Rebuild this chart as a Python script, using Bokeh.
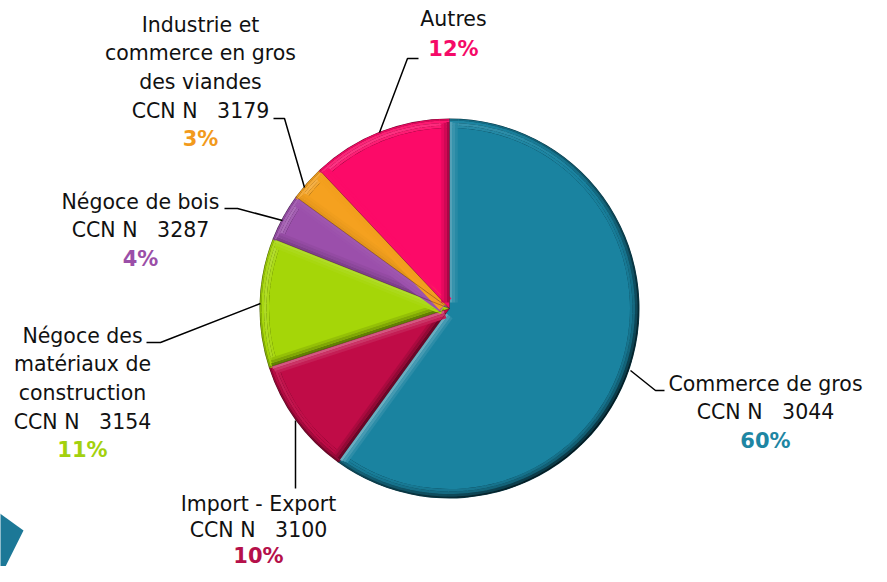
import numpy as np
from bokeh.plotting import figure
from bokeh.models import Range1d
from bokeh.embed import file_html
from bokeh.resources import INLINE
from bokeh.core.properties import value

# ---------------- data ----------------
categories = [
    "Commerce de gros\nCCN N\u00a0\u00a0 3044",
    "Import - Export\nCCN N\u00a0\u00a0 3100",
    "Négoce des\nmatériaux de\nconstruction\nCCN N\u00a0\u00a0 3154",
    "Négoce de bois\nCCN N\u00a0\u00a0 3287",
    "Industrie et\ncommerce en gros\ndes viandes\nCCN N\u00a0\u00a0 3179",
    "Autres",
]
shares = [60, 10, 11, 4, 3, 12]
pct_labels = ["60%", "10%", "11%", "4%", "3%", "12%"]

# ---------------- styles / layout ----------------
face = ["#1a83a0", "#c00c47", "#a5d608", "#9b4fab", "#f5a11f", "#fc0a68"]
pct_colors = ["#1e86a3", "#b5104a", "#a3d10e", "#9b4fa8", "#f29a1c", "#f50a68"]

W, H = 871, 566
def Y(y):
    return H - y

cx, cy, R = 449, Y(308), 190
label_x = [765, 258, 82, 140, 200, 453]
label_y0 = [383, 503, 335, 201, 24, 18]
label_lh = [28.7, 26.0, 28.7, 28.7, 28.7, 30]
leaders = [
    [(630, 370), (655, 390), (664, 390)],
    [(295, 420), (295, 488)],
    [(260, 303), (160, 342), (146, 342)],
    [(282, 220), (237, 208), (224, 208)],
    [(304, 187), (284, 118), (273, 118)],
    [(379, 132), (407, 58), (418, 58)],
]


def hex2rgb(h):
    h = h.lstrip("#")
    return np.array([int(h[k:k + 2], 16) for k in (0, 2, 4)], dtype=float)


def shade(h, t):
    """t>0 mixes toward white, t<0 toward black."""
    c = hex2rgb(h)
    if t >= 0:
        c = c + (255 - c) * t
    else:
        c = c * (1 + t)
    c = np.clip(c, 0, 255).astype(int)
    return "#%02x%02x%02x" % tuple(c)


LIGHT = 3 * np.pi / 4  # light coming from upper-left

p = figure(width=W, height=H, output_backend="svg", toolbar_location=None,
           x_range=Range1d(0, W), y_range=Range1d(0, H),
           min_border=0, outline_line_color=None, background_fill_color="white",
           border_fill_color="white")
p.axis.visible = False
p.grid.visible = False

# decorative shape bottom-left
p.patch([-2, 23, -2], [Y(512), Y(530), Y(580)], color="#1c7897", line_color=None)

total = float(sum(shares))
cum = np.cumsum([0] + shares) / total
start = np.pi / 2 - 2 * np.pi * cum[1:]
end = np.pi / 2 - 2 * np.pi * cum[:-1]

# base wedges (dark edge)
p.wedge(x=cx, y=cy, radius=R, start_angle=start, end_angle=end,
        color=[shade(c, -0.55) for c in face], line_color=None)

# beveled rim: rings x angular segments, shaded by light direction
rings = [(R - 2.0, R - 0.5, 1.0, -0.35), (R - 4.5, R - 2.0, 0.9, -0.15),
         (R - 7.0, R - 4.5, 0.6, 0.0), (R - 9.5, R - 7.0, 0.3, 0.0)]
ax0, ax1, ain, aout, acol = [], [], [], [], []
for i in range(len(shares)):
    a0, a1 = start[i], end[i]
    n = max(2, int(120 * (a1 - a0) / (2 * np.pi)) + 2)
    angs = np.linspace(a0, a1, n)
    for j in range(n - 1):
        mid = 0.5 * (angs[j] + angs[j + 1])
        lit = np.cos(mid - LIGHT)
        for rin, rout, k, base in rings:
            t = base + k * (0.30 * lit if lit > 0 else 0.45 * lit)
            ax0.append(angs[j])
            ax1.append(angs[j + 1] + 0.006)
            ain.append(rin)
            aout.append(rout)
            acol.append(shade(face[i], t))
p.annular_wedge(x=cx, y=cy, inner_radius=ain, outer_radius=aout,
                start_angle=ax0, end_angle=ax1, color=acol, line_color=None)

# flat faces
p.wedge(x=cx, y=cy, radius=R - 9.5, start_angle=start, end_angle=end,
        color=face, line_color=None)

# radial bevels along slice edges
bx, by, bcol, bw = [], [], [], []
for i in range(len(shares)):
    for a, inward in ((end[i], end[i] - np.pi / 2), (start[i], start[i] + np.pi / 2)):
        outward = inward + np.pi
        lit = np.cos(outward - LIGHT)
        t = 0.35 * lit if lit > 0 else 0.45 * lit
        for off, k, w in ((1.5, 1.0, 3), (4.5, 0.55, 3), (7.0, 0.25, 2.5)):
            ox, oy = off * np.cos(inward), off * np.sin(inward)
            bx.append([cx + ox + 6 * np.cos(a), cx + ox + (R - 3 - off * 0.3) * np.cos(a)])
            by.append([cy + oy + 6 * np.sin(a), cy + oy + (R - 3 - off * 0.3) * np.sin(a)])
            bcol.append(shade(face[i], t * k))
            bw.append(w)
p.multi_line(bx, by, line_color=bcol, line_width=bw)

# thin separators between slices
sx = [[cx, cx + R * np.cos(a)] for a in end]
sy = [[cy, cy + R * np.sin(a)] for a in end]
p.multi_line(sx, sy, line_color="#3a1020", line_alpha=0.35, line_width=1)

# leader lines
p.multi_line([[pt[0] for pt in l] for l in leaders],
             [[Y(pt[1]) for pt in l] for l in leaders],
             line_color="black", line_width=1.5)

# labels
for i, lab in enumerate(categories):
    lines = lab.split("\n")
    ys = [Y(label_y0[i] + k * label_lh[i]) for k in range(len(lines))]
    p.text(x=[label_x[i]] * len(lines), y=ys, text=lines,
           text_font=value("DejaVu Sans"), text_font_size="20.5px",
           text_color="#111111", text_align="center", text_baseline="middle")
    p.text(x=[label_x[i]], y=[Y(label_y0[i] + len(lines) * label_lh[i])], text=[pct_labels[i]],
           text_font=value("DejaVu Sans"), text_font_size="21px", text_font_style="bold",
           text_color=pct_colors[i], text_align="center", text_baseline="middle")

open("out.html", "w").write(file_html(p, INLINE))
